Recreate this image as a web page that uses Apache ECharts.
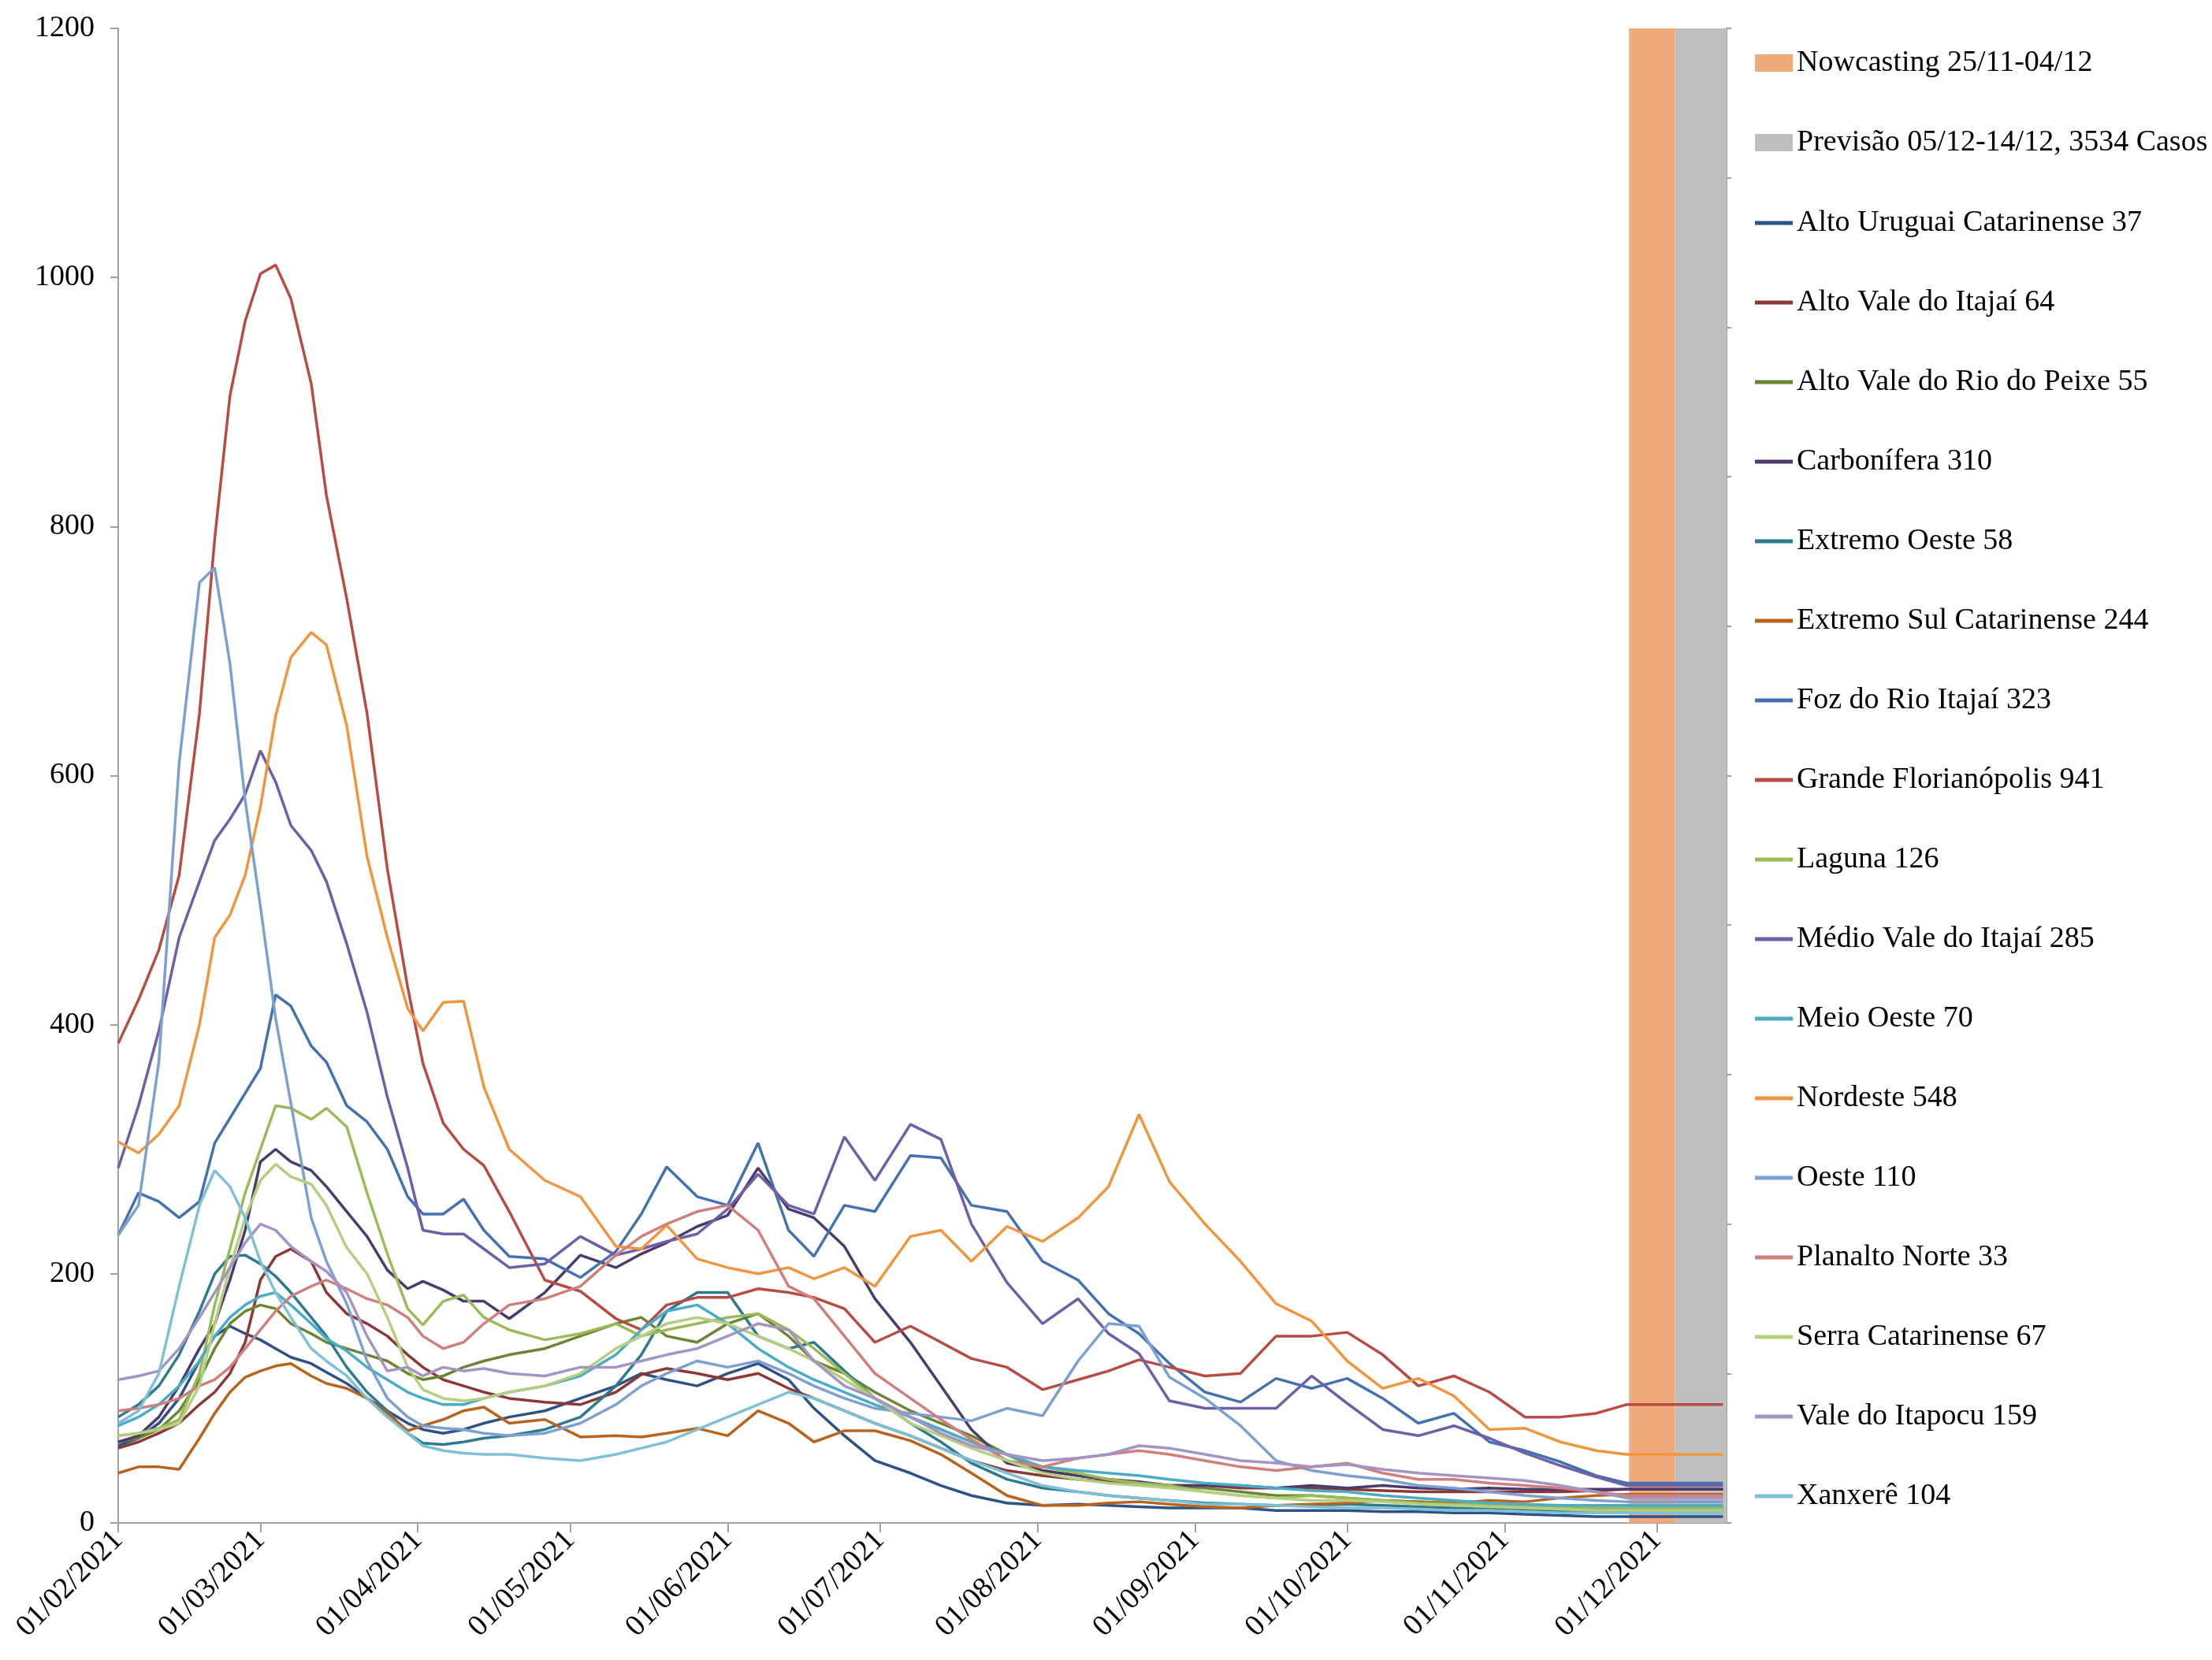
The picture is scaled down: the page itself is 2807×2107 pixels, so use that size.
<!DOCTYPE html>
<html><head><meta charset="utf-8">
<script src="https://cdn.jsdelivr.net/npm/echarts@6/dist/echarts.min.js"></script>
<style>html,body{margin:0;padding:0;background:#fff}#c{width:2807px;height:2107px}</style>
</head><body><div id="c"></div>
<script>
// ---------------- DATA ----------------
const DATES = ['2021-02-01','2021-02-05','2021-02-09','2021-02-13','2021-02-17','2021-02-20','2021-02-23','2021-02-26','2021-03-01','2021-03-04',
'2021-03-07','2021-03-11','2021-03-14','2021-03-18','2021-03-22','2021-03-26','2021-03-30','2021-04-02','2021-04-06','2021-04-10',
'2021-04-14','2021-04-19','2021-04-26','2021-05-03','2021-05-10','2021-05-15','2021-05-20','2021-05-26','2021-06-01','2021-06-07',
'2021-06-13','2021-06-18','2021-06-24','2021-06-30','2021-07-07','2021-07-13','2021-07-19','2021-07-26','2021-08-02','2021-08-09',
'2021-08-15','2021-08-21','2021-08-27','2021-09-03','2021-09-10','2021-09-17','2021-09-24','2021-10-01','2021-10-08','2021-10-15',
'2021-10-22','2021-10-29','2021-11-05','2021-11-12','2021-11-19','2021-11-25','2021-12-14'];

const MONTH_TICKS = ['01/02/2021','01/03/2021','01/04/2021','01/05/2021','01/06/2021','01/07/2021','01/08/2021','01/09/2021','01/10/2021','01/11/2021','01/12/2021'];

const NOWCAST_PERIOD = ['2021-11-25','2021-12-04'];
const PREVISAO_PERIOD = ['2021-12-05','2021-12-14'];
const BAND_NAMES = ['Nowcasting 25/11-04/12','Previsão 05/12-14/12, 3534 Casos'];

const ALTO_URUGUAI = [62,68,80,100,130,150,158,152,147,140, 133,128,121,112,100,90,80,75,72,75, 80,85,90,100,110,120,115,110,120,128, 115,92,70,50,40,30,22,16,14,15, 14,13,12,12,12,10,10,10,9,9, 8,8,7,6,5,5,5];
const ALTO_VALE_ITAJAI = [60,65,72,80,95,105,120,145,195,214, 220,210,185,168,160,150,135,125,115,110, 105,100,97,95,105,119,124,120,115,120, 108,100,90,80,70,60,50,42,38,35, 33,32,30,30,28,28,28,27,26,25, 25,25,25,25,26,27,27];
const ALTO_VALE_RIO_PEIXE = [65,68,75,90,115,140,160,170,175,172, 160,152,145,140,135,130,120,115,118,125, 130,135,140,150,160,165,150,145,160,168, 150,130,120,105,90,80,70,55,42,38, 35,32,30,28,25,22,22,20,18,17, 16,15,14,13,12,12,12];
const CARBONIFERA = [65,70,85,110,140,160,195,235,290,300, 290,283,270,250,230,203,188,194,187,178, 178,164,185,215,205,216,225,238,247,285, 252,245,222,180,145,110,75,48,42,38, 35,33,30,30,30,28,30,28,30,28, 27,28,27,27,27,27,27];
const EXTREMO_OESTE = [85,95,110,135,170,200,214,215,208,198, 185,165,150,125,105,90,72,64,63,65, 68,70,75,85,110,135,170,185,185,150, 140,145,122,100,80,65,48,35,28,25, 22,20,18,16,15,14,14,15,14,13, 12,12,11,10,10,10,10];
const EXTREMO_SUL = [40,45,45,43,68,88,105,117,122,126, 128,118,112,108,100,88,74,78,83,90, 93,80,83,69,70,69,72,76,70,90, 80,65,74,74,66,55,40,22,14,14, 16,17,15,13,12,14,15,16,18,17, 16,18,17,20,22,23,23];
const FOZ_RIO_ITAJAI = [231,265,258,245,258,305,325,345,365,424, 415,383,370,335,322,300,262,248,248,260, 235,214,212,197,218,248,286,262,255,305, 235,214,255,250,295,293,255,250,210,195, 168,152,128,105,97,116,108,116,100,80, 88,65,58,49,38,32,32];
const GRANDE_FLORIANOPOLIS = [385,420,460,520,650,790,905,965,1003,1010, 983,915,825,742,650,525,430,369,321,300, 287,250,195,186,164,155,175,181,181,188, 185,181,172,145,158,145,132,125,107,115, 122,131,125,118,120,150,150,153,135,110, 118,105,85,85,88,95,95];
const LAGUNA = [70,72,76,83,120,175,220,265,300,335, 333,324,333,318,265,216,172,159,178,183, 165,155,147,152,160,150,155,160,165,168, 155,140,120,100,85,75,65,55,45,40, 35,32,30,25,22,20,22,20,18,16, 15,15,14,13,12,12,12];
const MEDIO_VALE_ITAJAI = [285,335,395,470,515,548,565,585,620,595, 560,540,515,465,410,342,285,235,232,232, 220,205,208,230,215,220,226,232,252,280, 255,248,310,275,320,308,240,193,160,180, 152,136,98,92,92,92,118,96,75,70, 78,68,56,46,37,30,30];
const MEIO_OESTE = [78,85,95,110,130,150,165,175,182,185, 175,160,148,138,125,115,105,100,95,95, 100,105,110,118,135,155,170,175,160,140, 125,115,105,95,85,75,65,55,45,42, 40,38,35,32,30,28,26,25,22,20, 18,16,15,14,14,14,14];
const NORDESTE = [306,297,312,335,400,470,488,520,575,648, 695,715,705,640,535,470,413,395,418,419, 350,300,275,262,222,220,239,212,205,200, 205,196,205,190,230,235,210,238,226,245, 270,328,274,240,210,176,162,130,108,116, 102,75,76,65,58,55,55];
const OESTE = [231,255,370,610,755,767,690,580,495,405, 337,245,210,176,130,100,85,78,76,75, 72,70,72,80,95,110,120,130,125,130, 120,110,100,92,88,85,82,92,86,130, 160,158,117,100,78,50,42,38,35,30, 28,25,22,20,18,17,17];
const PLANALTO_NORTE = [90,92,95,100,110,115,125,140,155,170, 182,190,195,188,180,175,165,150,140,145, 160,175,180,190,215,230,240,250,255,235, 190,180,150,120,100,83,67,50,45,52, 55,58,55,50,45,42,45,48,40,35, 35,32,30,28,25,22,22];
const SERRA_CATARINENSE = [70,72,75,80,110,160,205,245,275,288, 278,272,255,221,200,165,125,107,100,98, 100,105,110,120,140,150,160,165,160,150, 140,130,115,100,80,70,60,50,40,35, 32,30,28,25,22,20,18,18,17,15, 14,13,12,11,10,10,10];
const VALE_ITAPOCU = [115,118,122,140,165,185,205,225,240,235, 222,210,202,185,150,122,125,118,125,122, 124,120,118,125,125,130,135,140,150,160, 155,130,110,100,85,72,62,55,50,52, 55,62,60,55,50,48,45,47,43,40, 38,36,34,30,25,20,20];
const XANXERE = [80,90,120,190,255,283,270,245,210,185, 165,140,130,118,100,85,72,62,58,56, 55,55,52,50,55,60,65,75,85,95, 105,100,90,80,70,60,50,40,30,25, 22,20,18,15,15,14,13,12,12,11, 10,10,9,8,8,8,8];

const LINE_NAMES = ['Alto Uruguai Catarinense 37','Alto Vale do Itajaí 64','Alto Vale do Rio do Peixe 55','Carbonífera 310','Extremo Oeste 58','Extremo Sul Catarinense 244','Foz do Rio Itajaí 323','Grande Florianópolis 941','Laguna 126','Médio Vale do Itajaí 285','Meio Oeste 70','Nordeste 548','Oeste 110','Planalto Norte 33','Serra Catarinense 67','Vale do Itapocu 159','Xanxerê 104'];
const LINE_VALUES = [ALTO_URUGUAI, ALTO_VALE_ITAJAI, ALTO_VALE_RIO_PEIXE, CARBONIFERA, EXTREMO_OESTE, EXTREMO_SUL, FOZ_RIO_ITAJAI, GRANDE_FLORIANOPOLIS, LAGUNA, MEDIO_VALE_ITAJAI, MEIO_OESTE, NORDESTE, OESTE, PLANALTO_NORTE, SERRA_CATARINENSE, VALE_ITAPOCU, XANXERE];

// ---------------- STYLE ----------------
const LINE_COLORS = ['#2E5285','#8C3836','#6B8535','#4D3B6E','#2E7A90','#B8641E','#4472B0','#B84C45','#9BBB59','#6E5FA6','#4BACC6','#F0963F','#7DA0D0','#CF7F7C','#B5CF80','#A593C4','#7FC0D6'];
const BAND_COLORS = ['#EFA97A','#BFBFBF'];
const FONT = "'Liberation Serif','Times New Roman',serif";

const T0 = Date.UTC(2021, 1, 1);
const isoIdx = s => { const p = s.split('-').map(Number); return (Date.UTC(p[0], p[1]-1, p[2]) - T0) / 86400000; };
const dmyIdx = s => { const p = s.split('/').map(Number); return (Date.UTC(p[2], p[1]-1, p[0]) - T0) / 86400000; };
const X = DATES.map(isoIdx);
const TICK_IDX = MONTH_TICKS.map(dmyIdx);
const TICK_LABEL = {}; TICK_IDX.forEach((v, i) => TICK_LABEL[v] = MONTH_TICKS[i]);

const bandStart = isoIdx(NOWCAST_PERIOD[0]) + 0.5;
const bandSplit = isoIdx(PREVISAO_PERIOD[0]) - 0.5;
const bandEnd = isoIdx(PREVISAO_PERIOD[1]) + 0.7;

const series = [];
series.push({ name: BAND_NAMES[0], type: 'line', data: [], z: 1, color: BAND_COLORS[0], symbol: 'none',
  markArea: { silent: true, itemStyle: { color: BAND_COLORS[0], opacity: 1 }, data: [[{ xAxis: bandStart }, { xAxis: bandSplit }]] } });
series.push({ name: BAND_NAMES[1], type: 'line', data: [], z: 1, color: BAND_COLORS[1], symbol: 'none',
  markArea: { silent: true, itemStyle: { color: BAND_COLORS[1], opacity: 1 }, data: [[{ xAxis: bandSplit }, { xAxis: bandEnd }]] } });
LINE_NAMES.forEach((n, i) => {
  series.push({ name: n, type: 'line', z: 3, symbol: 'none', color: LINE_COLORS[i],
    lineStyle: { width: 3.5, color: LINE_COLORS[i] },
    data: X.map((x, j) => [x, LINE_VALUES[i][j]]) });
});

const axisGray = '#A0A0A0';
const chart = echarts.init(document.getElementById('c'), null, { renderer: 'canvas' });
chart.setOption({
  animation: false,
  backgroundColor: '#ffffff',
  grid: { left: 150, right: 616, top: 36, bottom: 174, containLabel: false },
  xAxis: { type: 'value', min: 0, max: bandEnd,
    axisLine: { show: true, lineStyle: { color: axisGray, width: 2 } },
    axisTick: { show: true, length: 12, lineStyle: { color: axisGray, width: 2 }, customValues: TICK_IDX },
    axisLabel: { rotate: 45, margin: 16, fontSize: 38, fontFamily: FONT, color: '#000', customValues: TICK_IDX,
      formatter: v => TICK_LABEL[v] || '' },
    splitLine: { show: false } },
  yAxis: [
    { type: 'value', min: 0, max: 1200, interval: 200,
      axisLine: { show: true, lineStyle: { color: axisGray, width: 2 } },
      axisTick: { show: true, length: 10, lineStyle: { color: axisGray, width: 2 } },
      axisLabel: { fontSize: 38, fontFamily: FONT, color: '#000', margin: 30, formatter: v => String(v) },
      splitLine: { show: false } },
    { type: 'value', position: 'right', min: 0, max: 10, interval: 1,
      axisLine: { show: true, lineStyle: { color: axisGray, width: 2 } },
      axisTick: { show: true, length: 6, lineStyle: { color: axisGray, width: 2 } },
      axisLabel: { show: false }, splitLine: { show: false } }
  ],
  legend: [
    { orient: 'vertical', left: 2222, top: 55, itemWidth: 48, itemHeight: 22, itemGap: 61, icon: 'rect',
      data: BAND_NAMES, textStyle: { fontSize: 38, lineHeight: 40, fontFamily: FONT, color: '#000' } },
    { orient: 'vertical', left: 2222, top: 258, itemWidth: 48, itemHeight: 5, itemGap: 61, icon: 'rect',
      data: LINE_NAMES, textStyle: { fontSize: 38, lineHeight: 40, fontFamily: FONT, color: '#000' } }
  ],
  series: series
});
</script></body></html>
